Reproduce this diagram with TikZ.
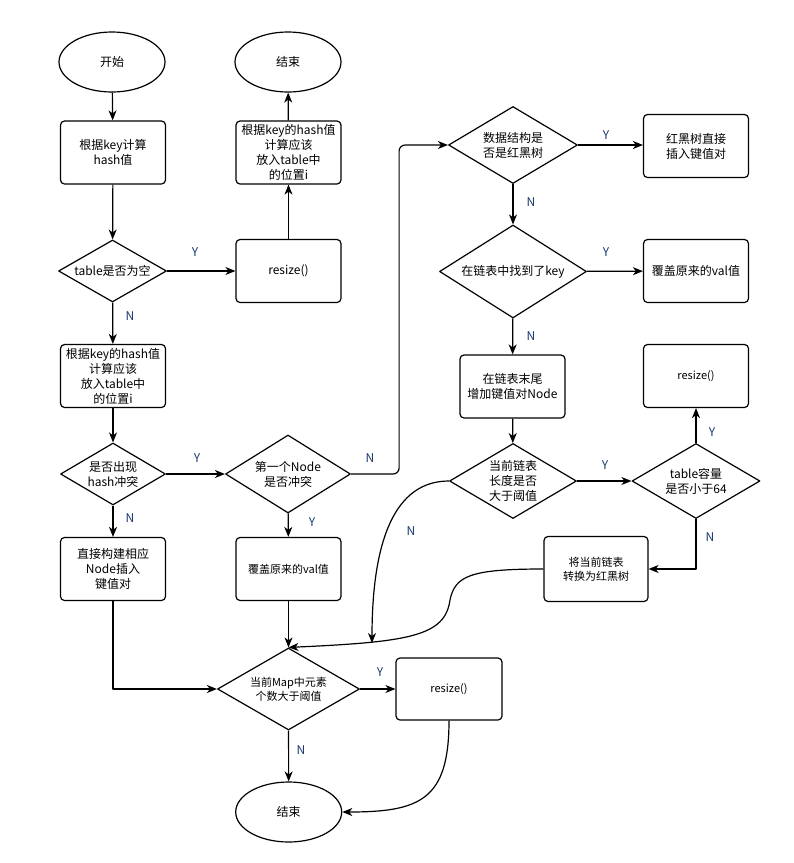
\documentclass[tikz,border=0pt]{standalone}
\usepackage{fontspec}
\setmainfont{Noto Sans CJK SC}
\usetikzlibrary{shapes.geometric,arrows.meta}
\definecolor{lblblue}{RGB}{25,55,110}

\begin{document}
\begin{tikzpicture}[x=1pt, y=-1pt, line join=round,
	>={Stealth[length=10pt,width=8pt,inset=3pt]}, line width=1.2pt,
	font=\fontsize{12}{15}\selectfont,
	terminal/.style={draw, ellipse, minimum width=106pt, minimum height=60pt, inner sep=0pt},
	procbox/.style={draw, rectangle, rounded corners=4pt, minimum width=105pt, minimum height=63pt,
		inner xsep=1pt, inner ysep=0pt, align=center},
	decision/.style={draw, diamond, shape aspect=1.7, inner sep=0pt, align=center},
	lbl/.style={text=lblblue},
	smalltext/.style={font=\fontsize{11}{14}\selectfont}]
	
	% 画布范围
	\useasboundingbox (0,0) rectangle (794,863);
	
	% 左侧主流程
	\node[terminal] (start) at (112,62) {开始};
	\node[procbox] (hashbox) at (113,152.5) {根据key计算\\hash值};
	\node[decision, minimum width=108pt, minimum height=62pt] (isempty) at (112.5,271) {table是否为空};
	\node[procbox] (posbox) at (113,376) {根据key的hash值\\计算应该\\放入table中\\的位置i};
	\node[decision, minimum width=105pt, minimum height=62pt] (collide) at (113,474) {是否出现\\hash冲突};
	\node[procbox] (newnode) at (113,569) {直接构建相应\\Node插入\\键值对};
	
	% 扩容分支
	\node[procbox] (resizea) at (288.5,271) {resize()};
	\node[procbox] (posboxb) at (288.5,152.5) {根据key的hash值\\计算应该\\放入table中\\的位置i};
	\node[terminal] (enda) at (288,62) {结束};
	
	% 冲突分支
	\node[decision, minimum width=125pt, minimum height=78pt] (firstnode) at (288,474) {第一个Node\\是否冲突};
	\node[procbox, smalltext] (overwritea) at (288.5,569) {覆盖原来的val值};
	
	% 右侧：树或链表
	\node[decision, minimum width=129pt, minimum height=77pt] (istree) at (513,145) {数据结构是\\否是红黑树};
	\node[procbox] (treeput) at (696,146) {红黑树直接\\插入键值对};
	\node[decision, minimum width=147pt, minimum height=93pt] (foundkey) at (513,271.5) {在链表中找到了key};
	\node[procbox] (overwriteb) at (696,271) {覆盖原来的val值};
	\node[procbox] (append) at (512.5,386.5) {在链表末尾\\增加键值对Node};
	\node[decision, minimum width=127pt, minimum height=75pt] (toolong) at (513,481) {当前链表\\长度是否\\大于阈值};
	\node[decision, minimum width=128pt, minimum height=75pt] (cap64) at (696,481) {table容量\\是否小于64};
	\node[procbox, smalltext] (resizeb) at (696,376) {resize()};
	\node[procbox, smalltext, minimum width=104pt, minimum height=65pt] (totree) at (596,569) {将当前链表\\转换为红黑树};
	
	% 收尾
	\node[decision, smalltext, minimum width=142pt, minimum height=82pt] (sizechk) at (288.5,689) {当前Map中元素\\个数大于阈值};
	\node[procbox, smalltext, minimum width=106pt, minimum height=62pt] (resizec) at (449,689) {resize()};
	\node[terminal] (endb) at (288.7,812) {结束};
	\coordinate (joinN) at (372,643);
	
	% 连线
	\draw[->] (start) -- (hashbox);
	\draw[->] (hashbox) -- (isempty);
	\draw[->] (isempty) -- (posbox);
	\draw[->] (isempty) -- (resizea);
	\draw[->] (resizea) -- (posboxb);
	\draw[->] (posboxb) -- (enda);
	\draw[->] (posbox) -- (collide);
	\draw[->] (collide) -- (firstnode);
	\draw[->] (collide) -- (newnode);
	\draw[->] (firstnode) -- (overwritea);
	\draw[->, rounded corners=6pt] (firstnode.east) -- ++(48,0) |- (istree.west);
	\draw[->] (istree.east) -- (istree.east -| treeput.west);
	\draw[->] (istree) -- (foundkey);
	\draw[->] (foundkey) -- (overwriteb);
	\draw[->] (foundkey) -- (append);
	\draw[->] (append) -- (toolong);
	\draw[->] (toolong) -- (cap64);
	\draw[->] (cap64) -- (resizeb);
	\draw[->] (cap64.south) |- (totree.east);
	\draw[->] (toolong.west) .. controls (395,481) and (372,540) .. (joinN);
	\draw[->] (totree.west) .. controls (470,569) and (455,576) .. (450,600)
		.. controls (445,636) and (410,642) .. (sizechk.north);
	\draw[->] (overwritea) -- (sizechk);
	\draw[->] (newnode.south) |- (sizechk.west);
	\draw[->] (sizechk) -- (resizec);
	\draw[->] (sizechk) -- (endb);
	\draw[->] (resizec.south) .. controls (449,800) and (420,812) .. (endb.east);
	
	% 是/否标记
	\node[lbl] (y1) at (195,252) {Y};
	\node[lbl] (n1) at (130,316) {N};
	\node[lbl] (y2) at (197,458) {Y};
	\node[lbl] (n2) at (130,518) {N};
	\node[lbl] (y3) at (312,522) {Y};
	\node[lbl] (n3) at (370,458) {N};
	\node[lbl] (y4) at (606,135) {Y};
	\node[lbl] (n4) at (531,202) {N};
	\node[lbl] (y5) at (606,252) {Y};
	\node[lbl] (n5) at (531,336) {N};
	\node[lbl] (y6) at (605,465) {Y};
	\node[lbl] (y7) at (712,432) {Y};
	\node[lbl] (n7) at (710,537) {N};
	\node[lbl] (n6) at (411,531) {N};
	\node[lbl] (y8) at (380,672) {Y};
	\node[lbl] (n8) at (301,750) {N};
	
\end{tikzpicture}
\end{document}
